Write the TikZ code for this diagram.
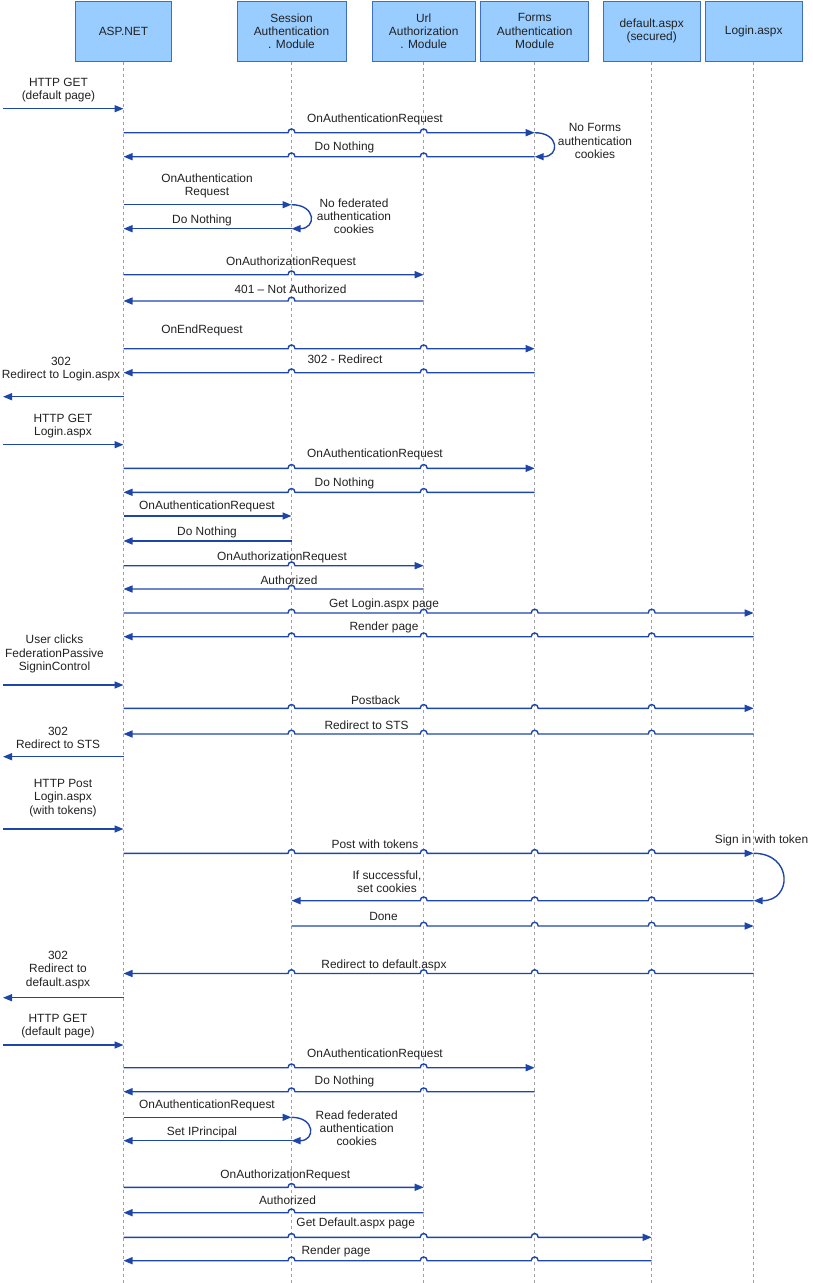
\documentclass[tikz,border=0pt]{standalone}
\usepackage{fontspec}
\setmainfont{Liberation Sans}
\usetikzlibrary{arrows.meta}
\definecolor{boxfill}{RGB}{153,204,255}
\definecolor{boxline}{RGB}{60,110,200}
\definecolor{msgcol}{RGB}{30,70,170}
\definecolor{txtcol}{RGB}{34,34,34}
\definecolor{lifecol}{RGB}{160,160,160}
\tikzset{
  actor/.style={draw=boxline, line width=1pt, fill=boxfill, minimum height=60pt, inner sep=0pt, align=center, text=txtcol, font=\fontsize{11.9}{13.2}\selectfont},
  lifeline/.style={draw=lifecol, line width=0.9pt, dash pattern=on 3pt off 3pt},
  msgline/.style={draw=msgcol, line width=1.4pt, -{Triangle[length=9pt,width=7pt]}},
  lbl/.style={inner sep=0pt, align=center, text=txtcol, font=\fontsize{11.9}{13.2}\selectfont}
}
\newcommand\msgR[4]{\draw[msgline] (#1 |- 0,#3) foreach \cx in {#4} { -- ({\cx-3.5},#3) .. controls ({\cx-3.5},#3-5) and ({\cx+3.5},#3-5) .. ({\cx+3.5},#3) } -- (#2 |- 0,#3);}
\newcommand\msgL[4]{\draw[msgline] (#1 |- 0,#3) foreach \cx in {#4} { -- ({\cx+3.5},#3) .. controls ({\cx+3.5},#3-5) and ({\cx-3.5},#3-5) .. ({\cx-3.5},#3) } -- (#2 |- 0,#3);}
\newcommand\msgS[3]{\draw[msgline] (#1 |- 0,#3) -- (#2 |- 0,#3);}
\newcommand\selfloop[4]{\draw[msgline] (#1 |- 0,#2) .. controls +(#4,0) and +(#4,0) .. (#1 |- 0,#3);}
\begin{document}
\begin{tikzpicture}[x=1pt,y=-1pt]
\useasboundingbox[fill=white] (0,0) rectangle (812,1283);
% actors
\node[actor, minimum width=96pt] (asp) at (123.5,31) {ASP.NET};
\node[actor, minimum width=109pt] (ses) at (291.5,31) {Session\\Authentication\\. Module};
\node[actor, minimum width=103pt] (url) at (423.7,31) {Url\\Authorization\\. Module};
\node[actor, minimum width=108pt] (frm) at (534.7,31) {Forms\\Authentication\\Module};
\node[actor, minimum width=97pt] (def) at (651.7,31) {default.aspx\\(secured)};
\node[actor, minimum width=97pt] (log) at (753.7,31) {Login.aspx};
\coordinate (ext) at (3,0);
\foreach \n in {asp,ses,url,frm,def,log} {
  \coordinate (\n end) at (\n |- 0,1283);
  \draw[lifeline] (\n.south) -- (\n end);
}
% messages
\msgS{ext}{asp}{108.7}
\msgR{asp}{frm}{132.7}{291.5,423.7}
\msgL{frm}{asp}{156.7}{423.7,291.5}
\selfloop{frm}{132.7}{156.7}{25}
\msgS{asp}{ses}{204.7}
\msgS{ses}{asp}{228.7}
\selfloop{ses}{204.7}{228.7}{25}
\msgR{asp}{url}{274.7}{291.5}
\msgL{url}{asp}{301}{291.5}
\msgR{asp}{frm}{348.7}{291.5,423.7}
\msgL{frm}{asp}{372.7}{423.7,291.5}
\msgS{asp}{ext}{396.7}
\msgS{ext}{asp}{444.7}
\msgR{asp}{frm}{468.3}{291.5,423.7}
\msgL{frm}{asp}{492.3}{423.7,291.5}
\msgS{asp}{ses}{516}
\msgS{ses}{asp}{541}
\msgR{asp}{url}{565.7}{291.5}
\msgL{url}{asp}{589}{291.5}
\msgR{asp}{log}{613}{291.5,423.7,534.7,651.7}
\msgL{log}{asp}{636.7}{651.7,534.7,423.7,291.5}
\msgS{ext}{asp}{685}
\msgR{asp}{log}{708.3}{291.5,423.7,534.7,651.7}
\msgL{log}{asp}{734}{651.7,534.7,423.7,291.5}
\msgS{asp}{ext}{756.7}
\msgS{ext}{asp}{829}
\msgR{asp}{log}{853.3}{291.5,423.7,534.7,651.7}
\selfloop{log}{853.3}{900.7}{39}
\msgL{log}{ses}{900.7}{651.7,534.7,423.7}
\msgR{ses}{log}{926}{423.7,534.7,651.7}
\msgL{log}{asp}{973.5}{651.7,534.7,423.7,291.5}
\msgS{asp}{ext}{997.7}
\msgS{ext}{asp}{1045}
\msgR{asp}{frm}{1067.7}{291.5,423.7}
\msgL{frm}{asp}{1091.7}{423.7,291.5}
\msgS{asp}{ses}{1117.3}
\msgS{ses}{asp}{1140.7}
\selfloop{ses}{1117.3}{1140.7}{24}
\msgR{asp}{url}{1187.3}{291.5}
\msgL{url}{asp}{1212.7}{291.5}
\msgR{asp}{def}{1237.3}{291.5,423.7,534.7}
\msgL{def}{asp}{1260.7}{534.7,423.7,291.5}
% labels
\node[lbl] (t1) at (58.5,90) {HTTP GET\\(default page)};
\node[lbl] (t2) at (375,119) {OnAuthenticationRequest};
\node[lbl] (t3) at (344.5,147.7) {Do Nothing};
\node[lbl] (t4) at (595,141) {No Forms\\authentication\\cookies};
\node[lbl] (t5) at (207,186.3) {OnAuthentication\\Request};
\node[lbl] (t6) at (202,220) {Do Nothing};
\node[lbl] (t7) at (354,216) {No federated\\authentication\\cookies};
\node[lbl] (t8) at (291,262.3) {OnAuthorizationRequest};
\node[lbl] (t9) at (290.5,289.3) {401 – Not Authorized};
\node[lbl] (t10) at (202,330) {OnEndRequest};
\node[lbl] (t11) at (345,359.3) {302 - Redirect};
\node[lbl] (t12) at (61,369) {302\\Redirect to Login.aspx};
\node[lbl] (t13) at (63,426.2) {HTTP GET\\Login.aspx};
\node[lbl] (t14) at (375,454.5) {OnAuthenticationRequest};
\node[lbl] (t15) at (344.5,483) {Do Nothing};
\node[lbl] (t16) at (207,506) {OnAuthenticationRequest};
\node[lbl] (t17) at (207,532) {Do Nothing};
\node[lbl] (t18) at (282,557) {OnAuthorizationRequest};
\node[lbl] (t19) at (289,580) {Authorized};
\node[lbl] (t20) at (384,604) {Get Login.aspx page};
\node[lbl] (t21) at (384,627.7) {Render page};
\node[lbl] (t22) at (54.5,654) {User clicks\\FederationPassive\\SigninControl};
\node[lbl] (t23) at (375.5,700) {Postback};
\node[lbl] (t24) at (366.5,725) {Redirect to STS};
\node[lbl] (t25) at (58,737.7) {302\\Redirect to STS};
\node[lbl] (t26) at (63,798) {HTTP Post\\Login.aspx\\(with tokens)};
\node[lbl] (t27) at (375,844.3) {Post with tokens};
\node[lbl] (t28) at (761.5,840.7) {Sign in with token};
\node[lbl] (t29) at (387,881.7) {If successful,\\set cookies};
\node[lbl] (t30) at (383.5,916.7) {Done};
\node[lbl] (t31) at (384,965) {Redirect to default.aspx};
\node[lbl] (t32) at (58,970) {302\\Redirect to\\default.aspx};
\node[lbl] (t33) at (58,1026.2) {HTTP GET\\(default page)};
\node[lbl] (t34) at (375,1054.3) {OnAuthenticationRequest};
\node[lbl] (t35) at (344.5,1081.7) {Do Nothing};
\node[lbl] (t36) at (207,1105) {OnAuthenticationRequest};
\node[lbl] (t37) at (202,1132) {Set IPrincipal};
\node[lbl] (t38) at (356.7,1128) {Read federated\\authentication\\cookies};
\node[lbl] (t39) at (285.3,1175.7) {OnAuthorizationRequest};
\node[lbl] (t40) at (287.5,1200) {Authorized};
\node[lbl] (t41) at (355.7,1223.3) {Get Default.aspx page};
\node[lbl] (t42) at (336,1251.7) {Render page};
\end{tikzpicture}
\end{document}
